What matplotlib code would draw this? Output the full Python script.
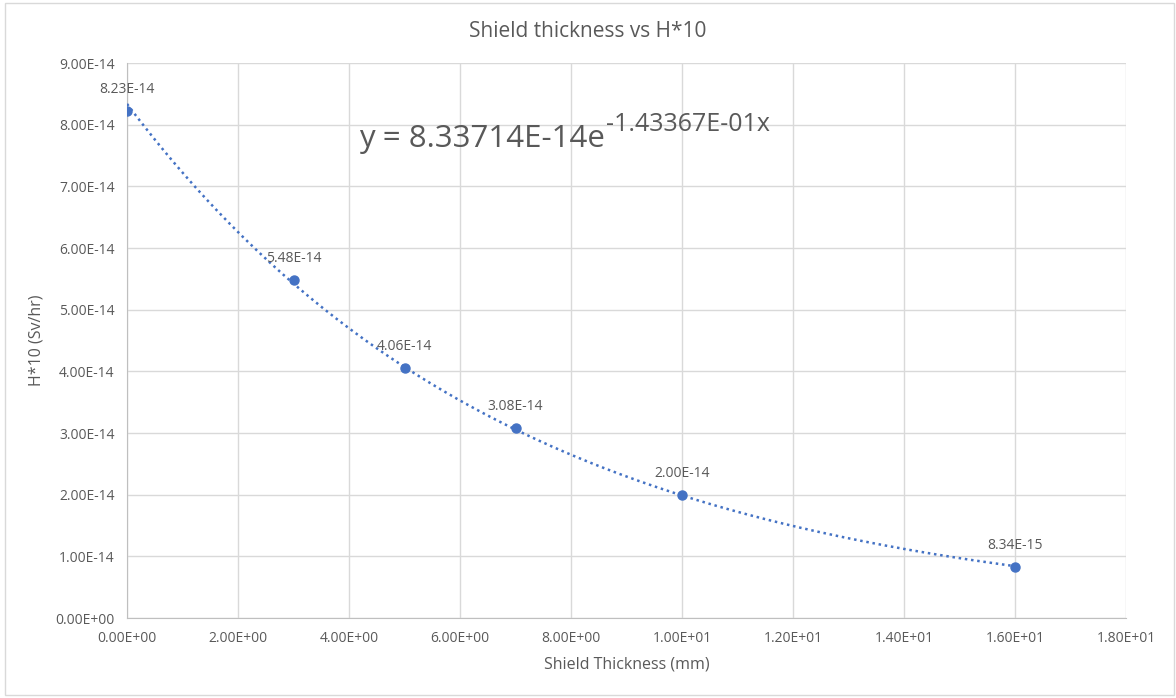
import numpy as np
import matplotlib
matplotlib.use("Agg")
import matplotlib.pyplot as plt
from matplotlib.patches import Rectangle

# data
thickness = [0, 3, 5, 7, 10, 16]
dose = [8.23e-14, 5.48e-14, 4.06e-14, 3.08e-14, 2.00e-14, 8.34e-15]
point_labels = ["8.23E-14", "5.48E-14", "4.06E-14", "3.08E-14", "2.00E-14", "8.34E-15"]

# Excel trendline coefficients as printed on the chart
fit_a = 8.33714E-14
fit_b = -1.43367E-01

x_ticks = [0, 2, 4, 6, 8, 10, 12, 14, 16, 18]
y_ticks = [0, 1e-14, 2e-14, 3e-14, 4e-14, 5e-14, 6e-14, 7e-14, 8e-14, 9e-14]

plt.rcParams['font.family'] = ['Open Sans', 'DejaVu Sans']
text_color = "#595959"
grid_color = "#d9d9d9"
blue = "#4472C4"


def sci(v):
    # Excel style 0.00E+00
    return "%.2E" % v


fig = plt.figure(figsize=(11.76, 6.98), dpi=100)
ax = fig.add_axes([0.108, 0.1146, 0.8495, 0.7951])

# outer chart border
fig.patches.append(Rectangle((0.004, 0.005), 0.994, 0.99, transform=fig.transFigure,
                             fill=False, edgecolor=grid_color, linewidth=1.0))

# exponential trendline
xs = np.linspace(min(thickness), max(thickness), 200)
ax.plot(xs, fit_a * np.exp(fit_b * xs), linestyle=(0, (1, 1.5)), color=blue,
        linewidth=1.8, zorder=3)

ax.plot(thickness, dose, 'o', color=blue, markersize=6.5, zorder=4)

for xv, yv, lab in zip(thickness, dose, point_labels):
    ax.annotate(lab, (xv, yv), xytext=(0, 10), textcoords='offset points',
                ha='center', va='bottom', fontsize=10, color=text_color, zorder=5)

ax.set_xlim(0, 18)
ax.set_ylim(0, 9e-14)
ax.set_xticks(x_ticks)
ax.set_yticks(y_ticks)
ax.set_xticklabels([sci(v) for v in x_ticks])
ax.set_yticklabels([sci(v) for v in y_ticks])
ax.tick_params(axis='both', length=0, labelsize=10, labelcolor=text_color, pad=9)
ax.grid(True, color=grid_color, linewidth=1.0)
ax.set_axisbelow(True)
for side in ['top', 'right']:
    ax.spines[side].set_visible(False)
for side in ['left', 'bottom']:
    ax.spines[side].set_color("#bfbfbf")

ax.set_xlabel("Shield Thickness (mm)", fontsize=11.5, color=text_color, labelpad=8)
ax.set_ylabel("H*10 (Sv/hr)", fontsize=11.5, color=text_color, labelpad=8)
fig.text(0.5, 0.955, "Shield thickness vs H*10", fontsize=15, color=text_color,
         ha='center', va='center')

# trendline equation: main part plus superscript exponent
eq_main = fig.text(0.305, 0.79, "y = %.5Ee" % fit_a, fontsize=22.5, color=text_color,
                   ha='left', va='baseline')
fig.canvas.draw()
bb = eq_main.get_window_extent().transformed(fig.transFigure.inverted())
fig.text(bb.x1 + 0.001, 0.813, "%.5Ex" % fit_b, fontsize=18, color=text_color,
         ha='left', va='baseline')

fig.savefig("out.png", dpi=100)
